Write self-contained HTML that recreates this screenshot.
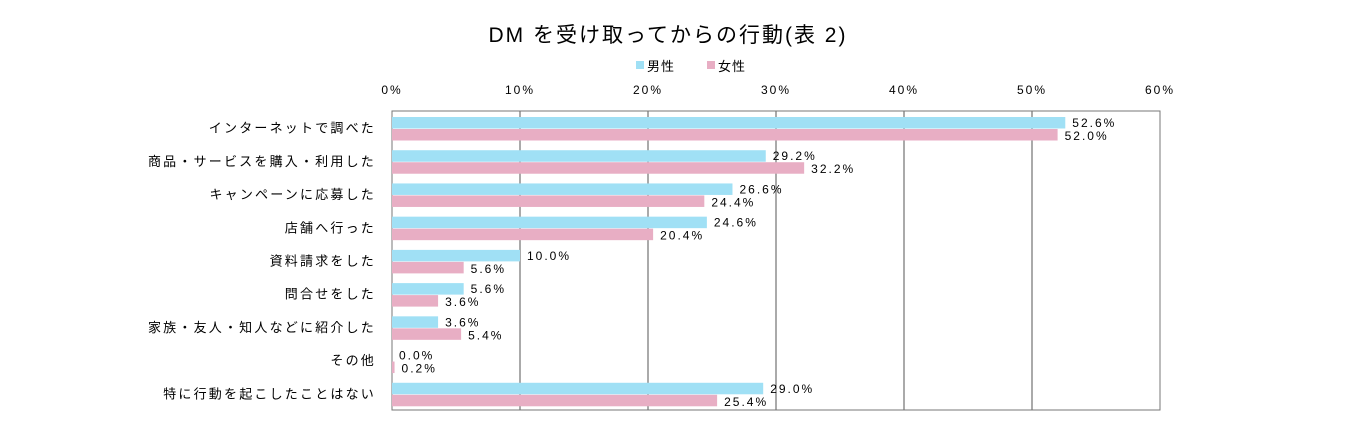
<!DOCTYPE html>
<html><head><meta charset="utf-8"><style>
body{margin:0;background:#fff;width:1350px;height:437px;overflow:hidden}
text{font-family:"Liberation Sans","Noto Sans CJK JP",sans-serif}
</style></head><body>
<svg id="chart" width="1350" height="437" xmlns="http://www.w3.org/2000/svg">
<text x="668" y="42" text-anchor="middle" font-size="21" letter-spacing="2" fill="#000">DM を受け取ってからの行動(表 2)</text>
<g>
<rect x="636" y="61" width="8" height="8" fill="#a0e0f5"/>
<text x="647" y="71" font-size="13" letter-spacing="1">男性</text>
<rect x="707" y="61" width="8" height="8" fill="#e8aec4"/>
<text x="718" y="71" font-size="13" letter-spacing="1">女性</text>
</g>
<g id="plot"></g>
</svg>
<script>
const categories=["インターネットで調べた","商品・サービスを購入・利用した","キャンペーンに応募した","店舗へ行った","資料請求をした","問合せをした","家族・友人・知人などに紹介した","その他","特に行動を起こしたことはない"];
const male=[52.6,29.2,26.6,24.6,10.0,5.6,3.6,0.0,29.0];
const female=[52.0,32.2,24.4,20.4,5.6,3.6,5.4,0.2,25.4];
const ticks=[0,10,20,30,40,50,60];
const tickLabels=["0%","10%","20%","30%","40%","50%","60%"];
const X0=392,X1=1160,T=111,B=410;
const x=v=>X0+(X1-X0)*v/60;
const rowH=(B-T)/categories.length;
const g=document.getElementById('plot');
const NS="http://www.w3.org/2000/svg";
function mk(tag,attrs,txt){const e=document.createElementNS(NS,tag);for(const k in attrs)e.setAttribute(k,attrs[k]);if(txt!==undefined)e.textContent=txt;g.appendChild(e);return e;}
ticks.forEach((t,i)=>{
 const gl=mk('line',{x1:x(t),x2:x(t),y1:T,y2:B,stroke:'#555','stroke-width':1});
 
 
 const tl=mk('text',{x:x(t),y:94,'text-anchor':'middle','font-size':12,'letter-spacing':'2'},tickLabels[i]);
 
 
});
const border=mk('rect',{x:X0,y:T,width:X1-X0,height:B-T,fill:'none',stroke:'#777','stroke-width':1});


categories.forEach((c,i)=>{
 const top=T+i*rowH;
 const cl=mk('text',{x:376,y:top+rowH/2+5,'text-anchor':'end','font-size':13,'letter-spacing':'2.2'},c);
 
 
 const bm=mk('rect',{x:X0,y:top+6,width:x(male[i])-X0,height:11.5,fill:'#a0e0f5'});
 
 
 const bf=mk('rect',{x:X0,y:top+18,width:x(female[i])-X0,height:11.5,fill:'#e8aec4'});
 
 
 const vm=mk('text',{x:x(male[i])+7,y:top+16,'font-size':12,'letter-spacing':'2'},male[i].toFixed(1)+'%');
 
 
 const vf=mk('text',{x:x(female[i])+7,y:top+29,'font-size':12,'letter-spacing':'2'},female[i].toFixed(1)+'%');
 
 
});
</script>
</body></html>
